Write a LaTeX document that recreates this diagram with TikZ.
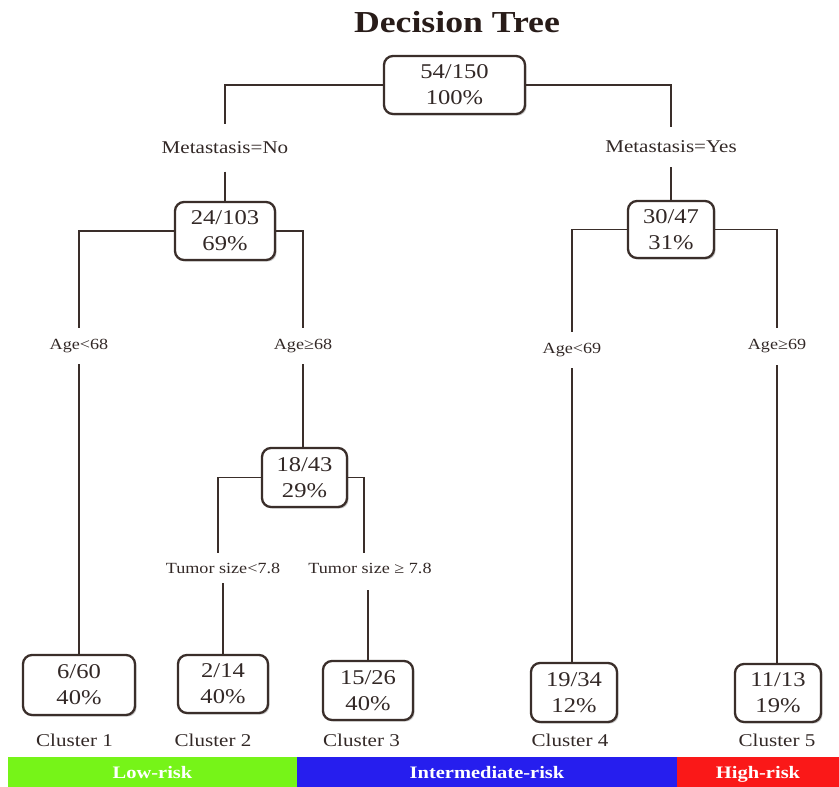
\documentclass[tikz,border=0pt]{standalone}
\usepackage{fontspec}
\setmainfont{Liberation Serif}[FakeStretch=1.17]
\usetikzlibrary{shadows}
\definecolor{ln}{RGB}{58,46,42}
\definecolor{txt}{RGB}{50,40,38}
\definecolor{ttl}{RGB}{40,28,25}
\definecolor{lowc}{RGB}{118,244,24}
\definecolor{midc}{RGB}{38,30,238}
\definecolor{highc}{RGB}{250,24,24}
\begin{document}
\begin{tikzpicture}[x=1pt,y=-1pt,
  box/.style={draw=ln, line width=2.3pt, rounded corners=9pt, fill=white, align=center,
    inner sep=0pt, font=\fontsize{21}{26}\selectfont, text=txt,
    drop shadow={shadow xshift=1.6pt, shadow yshift=-1.6pt, opacity=0.28, fill=black!70}},
  cond/.style={inner sep=0pt, font=\fontsize{18}{20}\selectfont, text=txt},
  small/.style={font=\fontsize{15.5}{18}\selectfont},
  clus/.style={inner sep=0pt, anchor=base, font=\fontsize{18}{20}\selectfont, text=txt},
  conn/.style={draw=ln, line width=1.8pt},
  riskbar/.style={inner sep=0pt, minimum height=30pt, text=white, text height=12pt, text depth=0pt,
    font=\fontsize{17.5}{20}\selectfont\bfseries}]
\useasboundingbox (0,0) rectangle (839,787);

% title
\node[anchor=base, inner sep=0pt, text=ttl, font=\fontsize{30.5}{34}\selectfont\bfseries] (title) at (457,32) {Decision Tree};

% boxes
\node[box, minimum width=141pt, minimum height=58pt] (root) at (454.5,85) {54/150\\100\%};
\node[box, minimum width=100pt, minimum height=58pt] (n24) at (225,231) {24/103\\69\%};
\node[box, minimum width=86pt, minimum height=57pt] (n30) at (671,229.5) {30/47\\31\%};
\node[box, minimum width=85pt, minimum height=59pt] (n18) at (304.5,477.5) {18/43\\29\%};
\node[box, minimum width=112pt, minimum height=60pt] (c1) at (79,685) {6/60\\40\%};
\node[box, minimum width=90pt, minimum height=58pt] (c2) at (223,684) {2/14\\40\%};
\node[box, minimum width=90pt, minimum height=59pt] (c3) at (368,690.5) {15/26\\40\%};
\node[box, minimum width=86pt, minimum height=59pt] (c4) at (574,692.5) {19/34\\12\%};
\node[box, minimum width=86pt, minimum height=58pt] (c5) at (778,693) {11/13\\19\%};

% condition labels
\node[cond, minimum height=47pt] (mno) at (225,148) {Metastasis=No};
\node[cond, minimum height=40pt] (myes) at (671,147) {Metastasis=Yes};
\node[cond, small, minimum height=36pt] (a68l) at (79,346) {Age<68};
\node[cond, small, minimum height=36pt] (a68r) at (303,346) {Age≥68};
\node[cond, small, minimum height=36pt] (a69l) at (572,350) {Age<69};
\node[cond, small, minimum height=37pt] (a69r) at (777,346.5) {Age≥69};
\node[cond, small, minimum height=30pt] (t1) at (223,568) {Tumor size<7.8};
\node[cond, small, minimum height=30pt] (t2) at (370,568) {Tumor size ≥ 7.8};

% connectors
\draw[conn] (root.west) -| (mno.north);
\draw[conn] (mno.south) -- (n24.north);
\draw[conn] (root.east) -| (myes.north);
\draw[conn] (myes.south) -- (n30.north);
\draw[conn] (n24.west) -| (a68l.north);
\draw[conn] (a68l.south) -- (a68l.south |- c1.north);
\draw[conn] (n24.east) -| (a68r.north);
\draw[conn] (a68r.south) -- (a68r.south |- n18.north);
\draw[conn] (n18.west) -| ([xshift=-5pt]t1.north);
\draw[conn] (t1.south) -- (c2.north);
\draw[conn] (n18.east) -| ([xshift=-6pt]t2.north);
\draw[conn] ([yshift=-7pt]t2.south -| c3.north) -- (c3.north);
\draw[conn] (n30.west) -| (a69l.north);
\draw[conn] (a69l.south) -- (a69l.south |- c4.north);
\draw[conn] (n30.east) -| (a69r.north);
\draw[conn] (a69r.south) -- (a69r.south |- c5.north);

% cluster names
\node[clus] (k1) at (74.5,746) {Cluster 1};
\node[clus] (k2) at (213,746) {Cluster 2};
\node[clus] (k3) at (361.5,746) {Cluster 3};
\node[clus] (k4) at (570,746) {Cluster 4};
\node[clus] (k5) at (777,746) {Cluster 5};

% risk bar
\node[riskbar, fill=lowc, minimum width=289pt] (low) at (152.5,772) {Low-risk};
\node[riskbar, fill=midc, minimum width=380pt] (mid) at (487,772) {Intermediate-risk};
\node[riskbar, fill=highc, minimum width=162pt] (high) at (758,772) {High-risk};
\end{tikzpicture}
\end{document}
